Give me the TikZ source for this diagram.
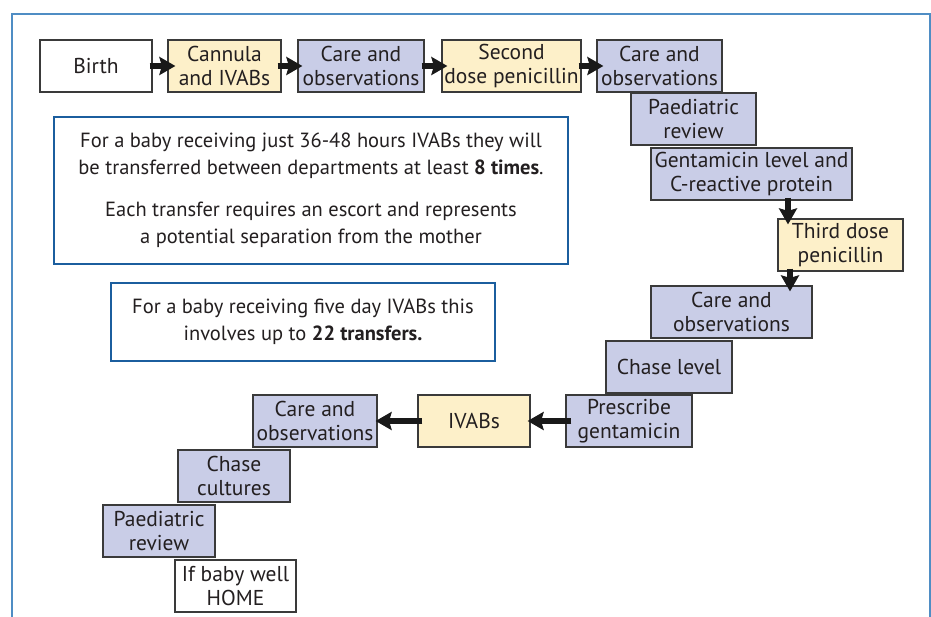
\documentclass[tikz,border=0pt]{standalone}
\usepackage{fontspec}
\setmainfont{PT Sans}
\usetikzlibrary{arrows.meta}
\definecolor{boxline}{HTML}{3A3A3A}
\definecolor{yel}{HTML}{FDF0C9}
\definecolor{blu}{HTML}{C9CDE7}
\definecolor{frame}{HTML}{4F8DC4}
\definecolor{infoline}{HTML}{1B5E9E}
\definecolor{txt}{HTML}{231F20}
\tikzset{
  box/.style={draw=boxline, line width=1.2pt, inner sep=0pt, align=center, text=txt,
    font=\fontsize{21.5}{23.5}\selectfont, minimum height=52pt},
  ybox/.style={box, fill=yel},
  bbox/.style={box, fill=blu},
  wbox/.style={box, fill=white},
  info/.style={draw=infoline, line width=2.5pt, inner sep=0pt, align=center, text=txt,
    font=\fontsize{20.5}{27.5}\selectfont},
  arr/.style={line width=5.5pt, draw=black!90, -{Stealth[length=16pt,width=18pt,inset=2.5pt]}}
}
\begin{document}
\begin{tikzpicture}[x=1pt,y=-1pt]
\useasboundingbox (0,0) rectangle (931,617);
\fill[white] (0,0) rectangle (931,617);
\draw[frame, line width=1.5pt] (12,620) -- (12,14) -- (930,14) -- (930,620);

\node[wbox, minimum width=112pt] (birth) at (96,66) {Birth};
\node[ybox, minimum width=113pt] (cannula) at (224.5,66) {Cannula\\and IVABs};
\node[bbox, minimum width=126pt] (care1) at (361,66) {Care and\\observations};
\node[ybox, minimum width=139pt] (second) at (511.5,66) {Second\\dose penicillin};
\node[bbox, minimum width=125pt] (care2) at (659.5,66) {Care and\\observations};
\node[bbox, minimum width=125pt] (paed1) at (693.5,119) {Paediatric\\review};
\node[bbox, minimum width=201pt] (gent) at (751.5,174) {Gentamicin level and\\C-reactive protein};
\node[ybox, minimum width=125pt] (third) at (840.5,245) {Third dose\\penicillin};
\node[bbox, minimum width=161pt] (care3) at (731.5,312) {Care and\\observations};
\node[bbox, minimum width=126pt] (chase) at (669,367) {Chase level};
\node[bbox, minimum width=126pt] (presc) at (629,421) {Prescribe\\gentamicin};
\node[ybox, minimum width=112pt] (ivabs) at (474,421) {IVABs};
\node[bbox, minimum width=124pt] (care4) at (315,421) {Care and\\observations};
\node[bbox, minimum width=112pt] (cult) at (234,476) {Chase\\cultures};
\node[bbox, minimum width=112pt] (paed2) at (159,531) {Paediatric\\review};
\node[wbox, minimum width=121pt] (home) at (235.5,586) {If baby well\\HOME};

\node[info, minimum width=514pt, minimum height=147pt] (info1) at (311,190.5)
  {For a baby receiving just 36-48 hours IVABs they will\\
   be transferred between departments at least \textbf{8 times}.\\[14pt]
   Each transfer requires an escort and represents\\
   a potential separation from the mother};
\node[info, minimum width=384pt, minimum height=78pt] (info2) at (303,322)
  {For a baby receiving five day IVABs this\\
   involves up to \textbf{22 transfers.}};

\draw[arr] ([xshift=-3pt]birth.east) -- ([xshift=8pt]cannula.west);
\draw[arr] ([xshift=-4pt]cannula.east) -- ([xshift=5pt]care1.west);
\draw[arr] ([xshift=-3pt]care1.east) -- ([xshift=6pt]second.west);
\draw[arr] ([xshift=-3pt]second.east) -- ([xshift=7pt]care2.west);
\draw[arr] ([xshift=36.5pt,yshift=3pt]gent.south) -- ([xshift=-52.5pt,yshift=-6pt]third.north);
\draw[arr] ([xshift=-50.5pt,yshift=3pt]third.south) -- ([xshift=58.5pt,yshift=-6pt]care3.north);
\draw[arr] ([xshift=6pt]presc.west) -- ([xshift=-3pt]ivabs.east);
\draw[arr] ([xshift=5pt]ivabs.west) -- ([xshift=-2pt]care4.east);
\end{tikzpicture}
\end{document}
